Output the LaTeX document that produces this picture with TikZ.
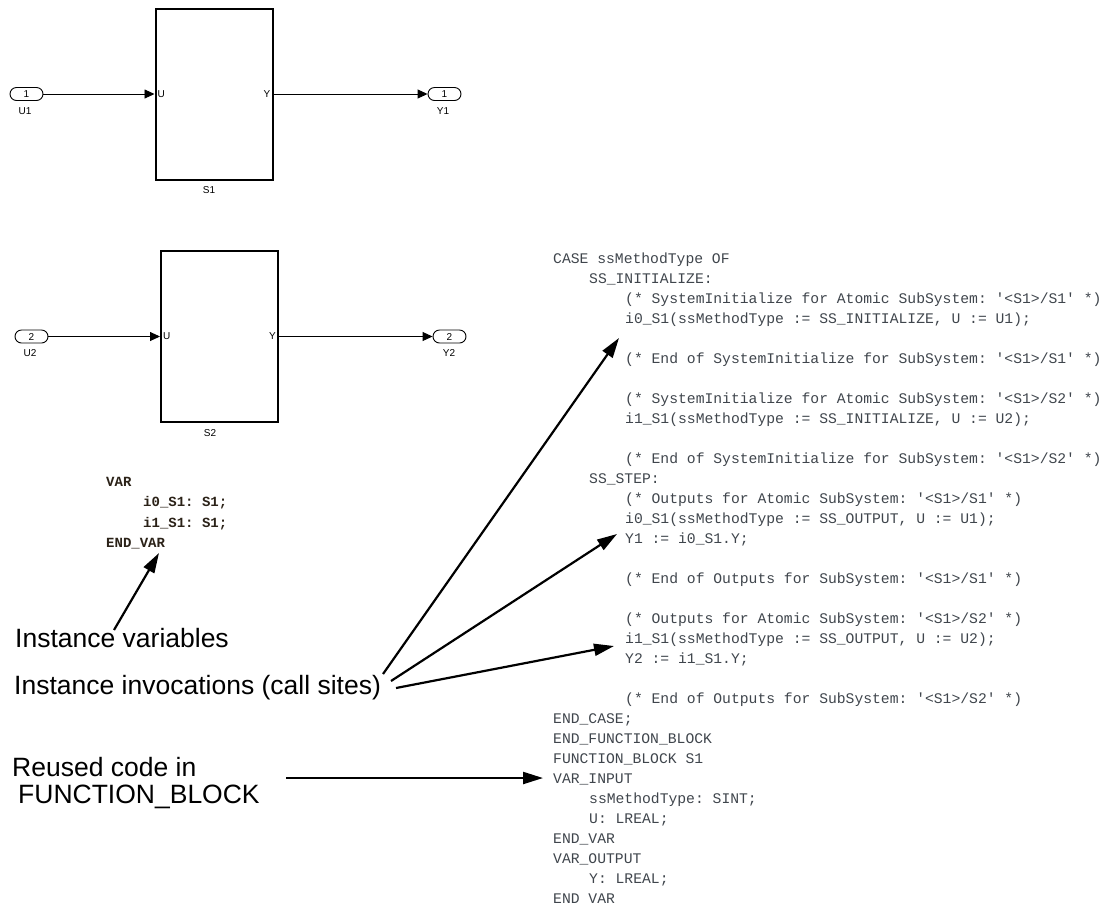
\documentclass[tikz,border=0pt]{standalone}
\usepackage{fontspec}
\setmainfont{Liberation Sans}
\setmonofont{Liberation Mono}
\usetikzlibrary{arrows.meta}
\definecolor{codecol}{HTML}{3F454C}
\definecolor{varcol}{HTML}{2B2218}
\begin{document}
\begin{tikzpicture}[x=1pt,y=-1pt,
  blk/.style={draw, line width=2pt, minimum width=117pt, minimum height=171pt, inner sep=0pt},
  port/.style={draw, line width=0.9pt, rounded corners=6.5pt, minimum width=33pt, minimum height=13pt, inner sep=0pt, font=\fontsize{10}{10}\selectfont},
  lbl/.style={inner sep=0pt, font=\fontsize{10}{12}\selectfont},
  sig/.style={line width=0.9pt, -{Triangle[length=10pt,width=9pt]}},
  callout/.style={line width=2.2pt, -{Triangle[length=20pt,width=12pt]}},
  code/.style={anchor=base west, inner sep=0pt, font=\ttfamily\fontsize{14.7}{20}\selectfont, text=codecol},
  vcode/.style={anchor=base west, inner sep=0pt, font=\ttfamily\bfseries\fontsize{14}{20}\selectfont, text=varcol},
  note/.style={anchor=base west, inner sep=0pt, font=\fontsize{26.5}{30}\selectfont}]
\useasboundingbox (0,0) rectangle (1110,906);

% ---- top subsystem S1
\node[blk] (S1) at (214,94) {};
\node[port] (U1) at (26.5,94) {1};
\node[port] (Y1) at (444.5,94) {1};
\node[lbl] (U1l) at (25,111) {U1};
\node[lbl] (Y1l) at (443,111) {Y1};
\node[lbl] (S1l) at (209,190) {S1};
\node[lbl, anchor=west] (S1u) at (157.5,94) {U};
\node[lbl, anchor=east] (S1y) at (270.5,94) {Y};
\draw[sig] (U1.east) -- (S1.west);
\draw[sig] (S1.east) -- (Y1.west);

% ---- second subsystem S2
\node[blk] (S2) at (219.5,336.5) {};
\node[port] (U2) at (31.5,336.5) {2};
\node[port] (Y2) at (449.5,336.5) {2};
\node[lbl] (U2l) at (30,353) {U2};
\node[lbl] (Y2l) at (449,353) {Y2};
\node[lbl] (S2l) at (210,433) {S2};
\node[lbl, anchor=west] (S2u) at (163,336.5) {U};
\node[lbl, anchor=east] (S2y) at (276,336.5) {Y};
\draw[sig] (U2.east) -- (S2.west);
\draw[sig] (S2.east) -- (Y2.west);

% ---- instance variables code
\node[vcode] (v0) at (106,486) {VAR};
\node[vcode] (v1) at (143,506.5) {i0\_S1: S1;};
\node[vcode] (v2) at (143,527) {i1\_S1: S1;};
\node[vcode] (v3) at (106,547.5) {END\_VAR};

% ---- generated code on the right
\node[code] (c0)  at (553,263) {CASE ssMethodType OF};
\node[code] (c1)  at (589,283) {SS\_INITIALIZE:};
\node[code] (c2)  at (625,303) {(* SystemInitialize for Atomic SubSystem: '<S1>/S1' *)};
\node[code] (c3)  at (625,323) {i0\_S1(ssMethodType := SS\_INITIALIZE, U := U1);};
\node[code] (c5)  at (625,363) {(* End of SystemInitialize for SubSystem: '<S1>/S1' *)};
\node[code] (c7)  at (625,403) {(* SystemInitialize for Atomic SubSystem: '<S1>/S2' *)};
\node[code] (c8)  at (625,423) {i1\_S1(ssMethodType := SS\_INITIALIZE, U := U2);};
\node[code] (c10) at (625,463) {(* End of SystemInitialize for SubSystem: '<S1>/S2' *)};
\node[code] (c11) at (589,483) {SS\_STEP:};
\node[code] (c12) at (625,503) {(* Outputs for Atomic SubSystem: '<S1>/S1' *)};
\node[code] (c13) at (625,523) {i0\_S1(ssMethodType := SS\_OUTPUT, U := U1);};
\node[code] (c14) at (625,543) {Y1 := i0\_S1.Y;};
\node[code] (c16) at (625,583) {(* End of Outputs for SubSystem: '<S1>/S1' *)};
\node[code] (c18) at (625,623) {(* Outputs for Atomic SubSystem: '<S1>/S2' *)};
\node[code] (c19) at (625,643) {i1\_S1(ssMethodType := SS\_OUTPUT, U := U2);};
\node[code] (c20) at (625,663) {Y2 := i1\_S1.Y;};
\node[code] (c22) at (625,703) {(* End of Outputs for SubSystem: '<S1>/S2' *)};
\node[code] (c23) at (553,723) {END\_CASE;};
\node[code] (c24) at (553,743) {END\_FUNCTION\_BLOCK};
\node[code] (c25) at (553,763) {FUNCTION\_BLOCK S1};
\node[code] (c26) at (553,783) {VAR\_INPUT};
\node[code] (c27) at (589,803) {ssMethodType: SINT;};
\node[code] (c28) at (589,823) {U: LREAL;};
\node[code] (c29) at (553,843) {END\_VAR};
\node[code] (c30) at (553,863) {VAR\_OUTPUT};
\node[code] (c31) at (589,883) {Y: LREAL;};
\node[code] (c32) at (553,903) {END VAR};

% ---- annotations
\node[note] (n1) at (15,647) {Instance variables};
\node[note] (n2) at (14,694) {Instance invocations (call sites)};
\node[note] (n3) at (12,776) {Reused code in};
\node[note] (n4) at (18,803) {FUNCTION\_BLOCK};

\coordinate (a0s) at (114,630);
\coordinate (a0e) at (159,553);
\coordinate (a1s) at (383,674);
\coordinate (a1e) at (619,338);
\coordinate (a2s) at (391,681);
\coordinate (a2e) at (617,534);
\coordinate (a3s) at (396,688);
\coordinate (a3e) at (614,646);
\coordinate (a4s) at (286,778);
\coordinate (a4e) at (543,778);
\draw[callout] (a0s) -- (a0e);
\draw[callout] (a1s) -- (a1e);
\draw[callout] (a2s) -- (a2e);
\draw[callout] (a3s) -- (a3e);
\draw[callout] (a4s) -- (a4e);
\end{tikzpicture}
\end{document}
